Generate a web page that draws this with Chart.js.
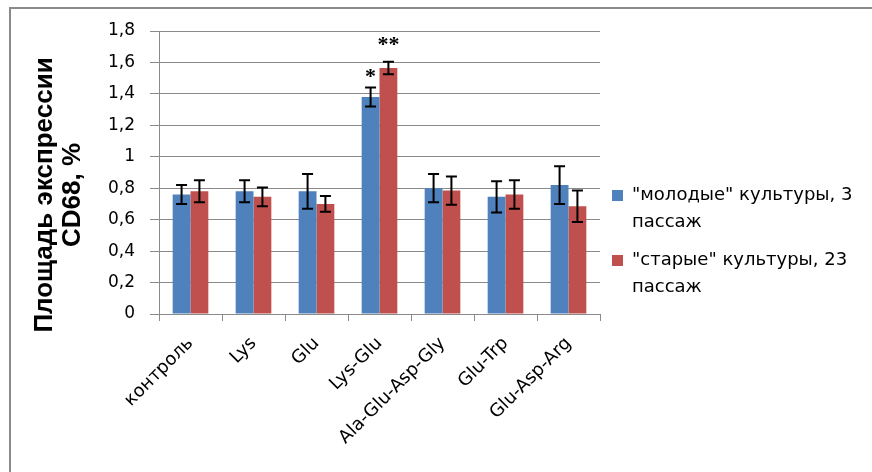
<!DOCTYPE html>
<html>
<head>
<meta charset="utf-8">
<script src="https://cdn.jsdelivr.net/npm/chart.js@4"></script>
<style>
  html, body { margin: 0; padding: 0; background: #fff; }
  #wrap { width: 872px; height: 472px; }
</style>
</head>
<body>
<div id="wrap"><canvas id="chart" width="872" height="472"></canvas></div>
<script>
// categories and values
const categories = ['контроль', 'Lys', 'Glu', 'Lys-Glu', 'Ala-Glu-Asp-Gly', 'Glu-Trp', 'Glu-Asp-Arg'];
const youngValues = [0.76, 0.78, 0.78, 1.38, 0.80, 0.745, 0.82];
const youngErrors = [0.06, 0.07, 0.11, 0.06, 0.09, 0.10, 0.12];
const oldValues = [0.78, 0.745, 0.70, 1.565, 0.785, 0.76, 0.685];
const oldErrors = [0.07, 0.06, 0.05, 0.04, 0.09, 0.09, 0.10];
const youngMarks = ['', '', '', '*', '', '', ''];
const oldMarks = ['', '', '', '**', '', '', ''];
const seriesNames = [['"молодые" культуры, 3', 'пассаж'], ['"старые" культуры, 23', 'пассаж']];
const axisTitle = ['Площадь экспрессии', 'CD68, %'];
const yMin = 0, yMax = 1.8, yStep = 0.2;

const colors = ['#4F81BD', '#C0504D'];
const errors = [youngErrors, oldErrors];
const marks = [youngMarks, oldMarks];

// error bars, stars, legend, y title, frame
const extras = {
  id: 'extras',
  beforeDraw(chart) {
    const ctx = chart.ctx;
    ctx.save();
    ctx.strokeStyle = '#8a8a8a';
    ctx.lineWidth = 2;
    ctx.beginPath();
    ctx.moveTo(10, 480);
    ctx.lineTo(10, 8);
    ctx.lineTo(890, 8);
    ctx.stroke();
    ctx.restore();
  },
  afterDatasetsDraw(chart) {
    const ctx = chart.ctx;
    const y = chart.scales.y;
    ctx.save();
    chart.data.datasets.forEach((ds, i) => {
      const meta = chart.getDatasetMeta(i);
      meta.data.forEach((bar, j) => {
        const v = ds.data[j];
        const e = errors[i][j];
        const top = y.getPixelForValue(v + e);
        const bot = y.getPixelForValue(v - e);
        ctx.strokeStyle = '#000';
        ctx.lineWidth = 2;
        ctx.beginPath();
        ctx.moveTo(bar.x, top);
        ctx.lineTo(bar.x, bot);
        ctx.moveTo(bar.x - 5.5, top);
        ctx.lineTo(bar.x + 5.5, top);
        ctx.moveTo(bar.x - 5.5, bot);
        ctx.lineTo(bar.x + 5.5, bot);
        ctx.stroke();
        if (marks[i][j]) {
          ctx.fillStyle = '#000';
          ctx.font = 'bold 22px "Liberation Serif"';
          ctx.textAlign = 'center';
          ctx.textBaseline = 'middle';
          ctx.fillText(marks[i][j], bar.x, top - (i === 0 ? 10 : 16));
        }
      });
    });
    ctx.restore();
  },
  afterDraw(chart) {
    const ctx = chart.ctx;
    ctx.save();
    // legend
    ctx.font = '18px "DejaVu Sans"';
    ctx.textAlign = 'left';
    ctx.textBaseline = 'middle';
    const rows = [195, 260];
    seriesNames.forEach((lines, i) => {
      ctx.fillStyle = colors[i];
      ctx.fillRect(612, rows[i] - 5, 11, 11);
      ctx.fillStyle = '#000';
      lines.forEach((t, k) => ctx.fillText(t, 632, rows[i] + k * 27));
    });
    // y title
    ctx.translate(0, 195);
    ctx.rotate(-Math.PI / 2);
    ctx.font = 'bold 26px "Liberation Sans"';
    ctx.textAlign = 'center';
    ctx.fillText(axisTitle[0], 0, 45);
    ctx.fillText(axisTitle[1], 0, 73);
    ctx.restore();
  }
};

const chart = new Chart(document.getElementById('chart'), {
  type: 'bar',
  data: {
    labels: categories,
    datasets: [
      { label: seriesNames[0].join(' '), data: youngValues, backgroundColor: colors[0] },
      { label: seriesNames[1].join(' '), data: oldValues, backgroundColor: colors[1] }
    ]
  },
  options: {
    responsive: false,
    animation: false,
    layout: { padding: { left: 20, top: 31, right: 272, bottom: 0 } },
    datasets: { bar: { categoryPercentage: 0.566, barPercentage: 1 } },
    plugins: { legend: { display: false }, tooltip: { enabled: false } },
    scales: {
      x: {
        grid: { offset: true, drawOnChartArea: false, drawTicks: true, tickLength: 7, color: '#8a8a8a' },
        border: { color: '#8a8a8a' },
        ticks: { color: '#000', font: { family: 'DejaVu Sans', size: 18 }, maxRotation: 45, minRotation: 45, padding: 12 },
        afterFit(s) { s.height = 158; }
      },
      y: {
        min: yMin, max: yMax,
        grid: { color: '#8a8a8a', tickLength: 9 },
        border: { color: '#8a8a8a' },
        ticks: {
          stepSize: yStep, color: '#000', padding: 15,
          font: { family: 'DejaVu Sans', size: 17 },
          callback: v => String(Number(v.toFixed(1))).replace('.', ',')
        },
        afterFit(s) { s.width = 139; }
      }
    }
  },
  plugins: [extras]
});
</script>
</body>
</html>
